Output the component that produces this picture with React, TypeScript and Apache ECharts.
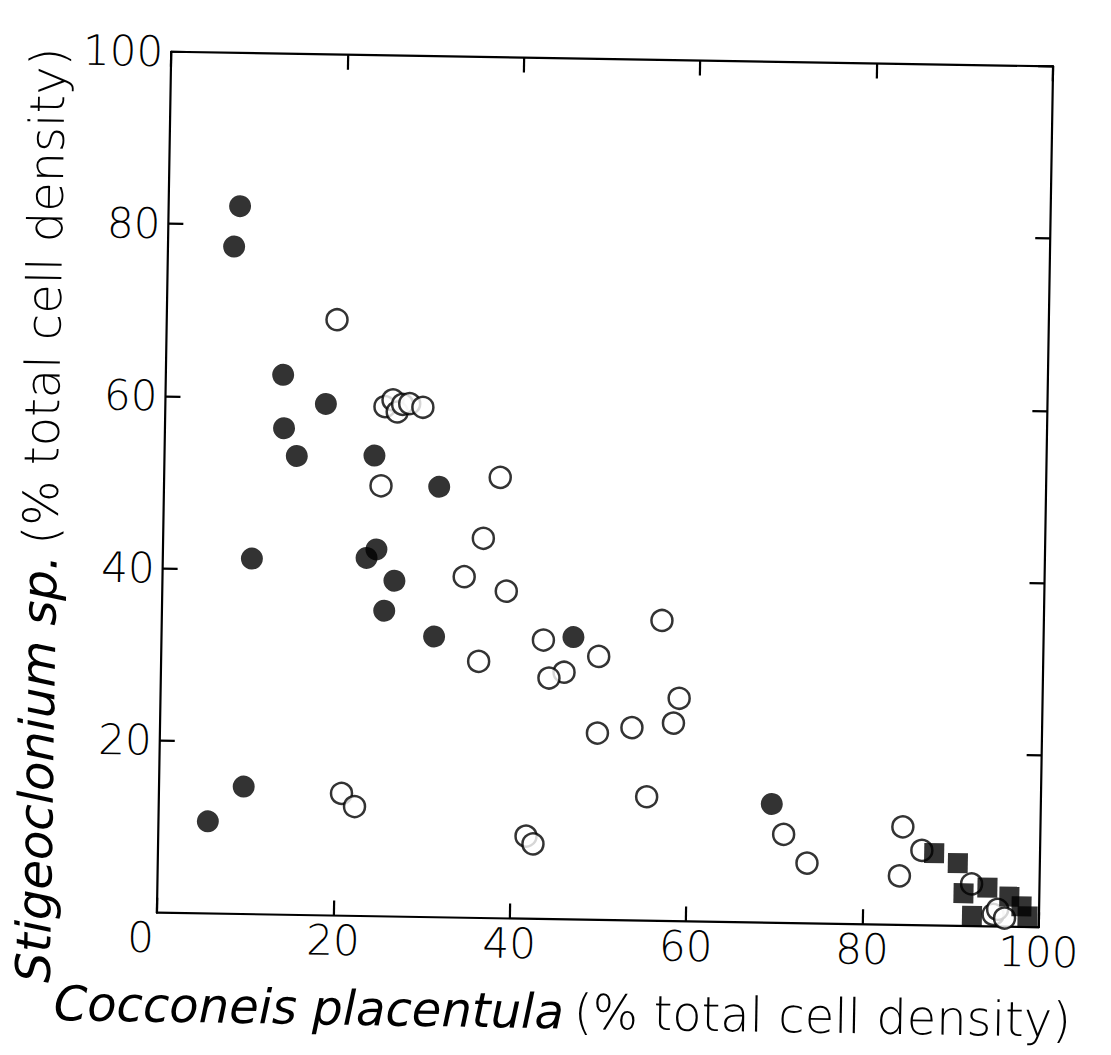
import React, { useEffect, useRef } from "react";
import * as echarts from "echarts";

const xTicks = [0, 20, 40, 60, 80, 100];
const yTicks = [0, 20, 40, 60, 80, 100];

// Filled circles [Cocconeis %, Stigeoclonium %]
const filledCircles: number[][] = [
  [8.1, 82.2], [7.5, 77.5], [13.3, 62.7], [13.5, 56.5], [15.0, 53.3], [18.2, 59.4],
  [10.1, 41.3], [23.8, 53.5], [31.2, 50.0], [23.1, 41.6], [24.2, 42.6], [26.3, 39.0],
  [25.2, 35.5], [30.9, 32.6], [46.7, 32.8], [9.6, 14.8], [5.6, 10.7], [69.5, 13.8],
];

// Open circles
const openCircles: number[][] = [
  [19.3, 69.2], [24.9, 59.2], [25.8, 60.0], [26.3, 58.6], [26.9, 59.5], [27.7, 59.6],
  [29.2, 59.2], [24.6, 50.0], [38.1, 51.2], [36.3, 44.1], [34.2, 39.6], [39.0, 38.0],
  [43.3, 32.4], [36.0, 29.8], [49.6, 30.6], [45.7, 28.7], [44.0, 28.0], [56.7, 34.9],
  [58.8, 25.9], [58.2, 23.0], [53.5, 22.4], [49.6, 21.7], [55.3, 14.4], [41.7, 9.6],
  [42.5, 8.7], [20.7, 14.2], [22.2, 12.7], [70.9, 10.3], [73.6, 7.0], [84.4, 11.4],
  [84.1, 5.7], [86.6, 8.7], [92.3, 4.9], [94.8, 1.4], [95.3, 2.0], [96.1, 1.0],
];

// Filled squares
const filledSquares: number[][] = [
  [88.0, 8.4], [90.7, 7.3], [91.4, 3.8], [94.1, 4.5], [96.6, 3.5], [92.4, 1.2],
  [98.0, 2.4], [98.7, 1.25],
];

const xTitleItalic = "Cocconeis placentula";
const yTitleItalic = "Stigeoclonium sp.";
const titleRest = "(% total cell density)";

const FONT = "'DejaVu Sans', 'Noto Sans', sans-serif";

export default function App() {
  const ref = useRef<HTMLDivElement>(null);
  useEffect(() => {
    if (!ref.current) return;
    const chart = echarts.init(ref.current, null, { renderer: "svg" });
    const axisLine = { show: true, onZero: false, lineStyle: { color: "#000", width: 2.2 } };
    const axisTick = { show: true, inside: true, length: 15, lineStyle: { color: "#000", width: 2.2 } };
    const labelStyle = { color: "#000", fontSize: 42, fontFamily: FONT, fontWeight: 200 as any };
    const titleRich = {
      i: { fontStyle: "italic", fontSize: 48, fontFamily: FONT, fontWeight: 200, color: "#000" },
      n: { fontStyle: "normal", fontSize: 48, fontFamily: FONT, fontWeight: 200, color: "#000" },
    };
    chart.setOption({
      animation: false,
      backgroundColor: "#fff",
      grid: { left: 164, top: 59, width: 882, height: 861, containLabel: false },
      xAxis: [
        {
          type: "value", min: xTicks[0], max: xTicks[xTicks.length - 1], interval: 20,
          position: "bottom",
          axisLine, axisTick, splitLine: { show: false },
          axisLabel: {
            ...labelStyle, margin: 4, lineHeight: 42,
            formatter: (v: number) => (v === 0 ? "{z|0}" : String(v)),
            rich: { z: { ...labelStyle, lineHeight: 42, padding: [0, 32, 0, 0] } },
          },
          name: `{i|${xTitleItalic}}   {n|${titleRest}}`,
          nameLocation: "middle",
          nameGap: 68,
          nameTextStyle: { rich: titleRich, padding: [0, 68, 0, 0] },
        },
        {
          type: "value", min: 0, max: 100, interval: 20, position: "top",
          axisLine, axisTick, axisLabel: { show: false }, splitLine: { show: false },
        },
      ],
      yAxis: [
        {
          type: "value", min: yTicks[0], max: yTicks[yTicks.length - 1], interval: 20,
          position: "left",
          axisLine, axisTick, splitLine: { show: false },
          axisLabel: { ...labelStyle, margin: 8, showMinLabel: false },
          name: `{i|${yTitleItalic}}   {n|${titleRest}}`,
          nameLocation: "middle",
          nameGap: 94,
          nameTextStyle: { rich: titleRich, padding: [0, 70, 0, 0] },
        },
        {
          type: "value", min: 0, max: 100, interval: 20, position: "right",
          axisLine, axisTick, axisLabel: { show: false }, splitLine: { show: false },
        },
      ],
      series: [
        {
          type: "scatter", name: "open", data: openCircles, symbol: "circle", symbolSize: 21,
          itemStyle: { color: "#fff", borderColor: "#000", borderWidth: 2.5 }, z: 2,
        },
        {
          type: "scatter", name: "filled", data: filledCircles, symbol: "circle", symbolSize: 22,
          itemStyle: { color: "#000" }, z: 3,
        },
        {
          type: "scatter", name: "squares", data: filledSquares, symbol: "rect", symbolSize: 20,
          itemStyle: { color: "#000" }, z: 3,
        },
      ],
    });
    return () => chart.dispose();
  }, []);
  return (
    <div
      style={{
        position: "absolute", left: 0, top: 0, width: 1111, height: 1055, background: "#fff",
        overflow: "hidden",
      }}
    >
      <div
        ref={ref}
        style={{
          position: "absolute", left: 0, top: 0, width: 1111, height: 1055,
          transform: "rotate(0.95deg)", transformOrigin: "605px 489.5px",
        }}
      />
    </div>
  );
}
